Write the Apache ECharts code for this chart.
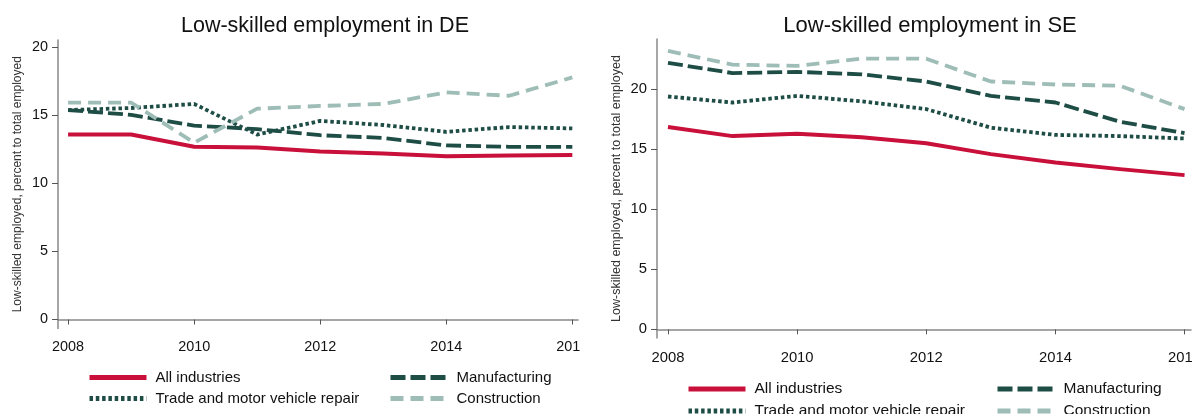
<!DOCTYPE html>
<html>
<head>
<meta charset="utf-8">
<title>Low-skilled employment</title>
<script src="https://cdn.jsdelivr.net/npm/echarts@6/dist/echarts.min.js"></script>
<style>
  html, body { margin: 0; padding: 0; background: #fff; }
  .panel { position: absolute; top: 0; height: 414px; overflow: hidden; }
  .chart { position: absolute; top: 0; left: 0; width: 640px; height: 414px; }
</style>
</head>
<body>
<div class="panel" style="left:0;width:581px"><div id="de" class="chart"></div></div>
<div class="panel" style="left:590px;width:602px"><div id="se" class="chart"></div></div>
<script>
// data
const years = [2008, 2009, 2010, 2011, 2012, 2013, 2014, 2015, 2016];
const yearTicks = [2008, 2010, 2012, 2014, 2016];
const valueTicks = [0, 5, 10, 15, 20];
const seriesNames = ["All industries", "Manufacturing", "Trade and motor vehicle repair", "Construction"];

const deAll = [13.6, 13.6, 12.7, 12.65, 12.35, 12.2, 12.0, 12.05, 12.1];
const deManufacturing = [15.4, 15.05, 14.25, 14.0, 13.55, 13.35, 12.8, 12.7, 12.7];
const deTrade = [15.4, 15.55, 15.85, 13.6, 14.6, 14.3, 13.8, 14.15, 14.05];
const deConstruction = [15.95, 15.95, 13.0, 15.5, 15.7, 15.85, 16.7, 16.45, 17.8];

const seAll = [16.85, 16.1, 16.3, 16.0, 15.5, 14.6, 13.9, 13.35, 12.85];
const seManufacturing = [22.2, 21.35, 21.45, 21.25, 20.65, 19.45, 18.9, 17.3, 16.35];
const seTrade = [19.4, 18.9, 19.45, 19.0, 18.35, 16.8, 16.2, 16.1, 15.9];
const seConstruction = [23.2, 22.05, 21.95, 22.55, 22.55, 20.65, 20.4, 20.3, 18.35];

const red = "#c8103a";
const dark = "#1e4d46";
const light = "#9ebdb6";

const lineStyles = [
  { color: red, width: 4, type: "solid" },
  { color: dark, width: 3.8, type: [15, 5] },
  { color: dark, width: 3.8, type: [3.5, 2.8] },
  { color: light, width: 3.8, type: [13, 7] },
];

const makeOption = (p) => {
  const data = [p.all, p.manufacturing, p.trade, p.construction];
  return {
    animation: false,
    backgroundColor: "#fff",
    title: {
      text: p.title,
      left: p.titleX,
      top: p.titleTop,
      textAlign: "center",
      textStyle: { fontFamily: "Liberation Sans", fontWeight: "normal", fontSize: p.titleSize, color: "#111" },
    },
    // one legend per item so the two columns line up
    legend: seriesNames.map((name, i) => ({
      data: [name],
      left: p.legendX[i % 2],
      top: p.legendY[Math.floor(i / 2)],
      itemWidth: 57,
      itemHeight: 14,
      selectedMode: false,
      itemStyle: { opacity: 0 },
      lineStyle: { color: lineStyles[i].color, width: 5, type: lineStyles[i].type, cap: "butt" },
      textStyle: { fontFamily: "Liberation Sans", fontSize: p.legendSize, color: "#111", padding: [0, 0, 0, 4] },
    })),
    grid: { left: p.grid[0], top: p.grid[1], width: p.grid[2], height: p.grid[3] },
    xAxis: {
      type: "value",
      min: p.xMin,
      max: p.xMax,
      axisLine: { lineStyle: { color: "#888", width: 1.5 } },
      axisTick: { customValues: yearTicks, length: 5, lineStyle: { color: "#555" } },
      axisLabel: {
        customValues: yearTicks,
        formatter: (v) => String(v),
        margin: 12,
        fontFamily: "Liberation Sans",
        fontSize: p.tickSize,
        color: "#111",
      },
      splitLine: { show: false },
    },
    yAxis: {
      type: "value",
      min: p.yMin,
      max: p.yMax,
      name: "Low-skilled employed, percent to total employed",
      nameLocation: "middle",
      nameGap: 34,
      nameMoveOverlap: false,
      nameTextStyle: { fontFamily: "Liberation Sans", fontSize: p.nameSize, color: "#333" },
      axisLine: { show: true, lineStyle: { color: "#888", width: 1.5 } },
      axisTick: { show: true, customValues: valueTicks, length: 6, lineStyle: { color: "#555" } },
      axisLabel: {
        customValues: valueTicks,
        margin: 10,
        fontFamily: "Liberation Sans",
        fontSize: p.tickSize,
        color: "#111",
      },
      splitLine: { show: false },
    },
    series: seriesNames.map((name, i) => ({
      name: name,
      type: "line",
      symbol: "none",
      lineStyle: Object.assign({ cap: "butt", join: "round" }, lineStyles[i]),
      itemStyle: { color: lineStyles[i].color },
      data: years.map((y, j) => [y, data[i][j]]),
    })),
  };
};

const deChart = echarts.init(document.getElementById("de"));
deChart.setOption(makeOption({
  title: "Low-skilled employment in DE",
  titleX: 320, titleTop: 10, titleSize: 21.5,
  grid: [58, 40, 520, 288.5],
  xMin: 2007.84, xMax: 2016.09,
  yMin: -0.66, yMax: 20.55,
  tickSize: 14.4, nameSize: 12, legendSize: 15,
  legendX: [82, 383], legendY: [365, 386],
  all: deAll, manufacturing: deManufacturing, trade: deTrade, construction: deConstruction,
}));

const seChart = echarts.init(document.getElementById("se"));
seChart.setOption(makeOption({
  title: "Low-skilled employment in SE",
  titleX: 335, titleTop: 10, titleSize: 22,
  grid: [67, 39, 534, 299],
  xMin: 2007.83, xMax: 2016.1,
  yMin: -0.72, yMax: 24.19,
  tickSize: 14.8, nameSize: 12.5, legendSize: 15.5,
  legendX: [91, 400], legendY: [376, 398],
  all: seAll, manufacturing: seManufacturing, trade: seTrade, construction: seConstruction,
}));
</script>
</body>
</html>
